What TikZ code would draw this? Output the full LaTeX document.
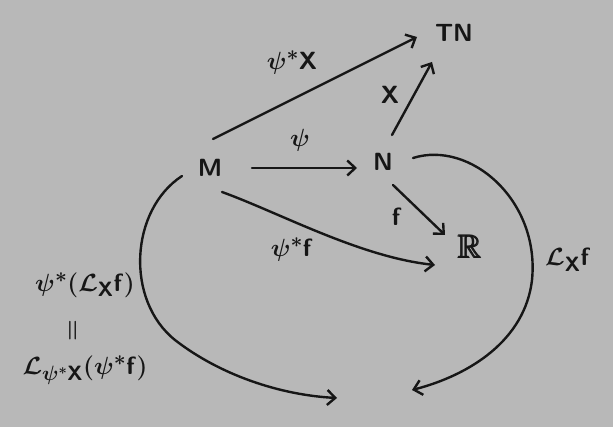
\documentclass[tikz,border=0pt]{standalone}
\usepackage{amsmath,amssymb}
\usetikzlibrary{arrows.meta,calc}
\definecolor{paper}{RGB}{184,184,184}
\definecolor{ink}{RGB}{22,22,22}
\tikzset{
  obj/.style={inner sep=3pt, text=ink, font=\fontsize{33}{36}\selectfont\boldmath},
  lbl/.style={inner sep=0pt, text=ink, font=\fontsize{32}{35}\selectfont\boldmath},
  sidelbl/.style={inner sep=0pt, text=ink, font=\fontsize{29}{32}\selectfont\boldmath},
  arr/.style={draw=ink, line width=2.4pt, line cap=round,
    -{Straight Barb[length=8pt,width=15pt,line width=2.4pt]}},
}
\begin{document}
\begin{tikzpicture}[x=1pt,y=-1pt]
\fill[paper] (0,0) rectangle (613,427);
\useasboundingbox (0,0) rectangle (613,427);
\node[obj] (M) at (210,168) {$\mathsf{M}$};
\node[obj] (N) at (383,162) {$\mathsf{N}$};
\node[obj] (TN) at (454,33) {$\mathsf{TN}$};
\node[obj] (R) at (470,247) {$\pmb{\mathbb{R}}$};
\coordinate (nend) at (412,390);
\coordinate (mend) at (337,398);
\draw[arr] ($(M)+(42,0)$) -- ($(N)+(-26,6)$);
\draw[arr] ($(M)+(3,-29)$) -- ($(TN)+(-37,4)$);
\draw[arr] ($(N)+(9,-27)$) -- ($(TN)+(-22,29)$);
\draw[arr] ($(N)+(10,23)$) -- ($(R)+(-25,-12)$);
\draw[arr] ($(M)+(12,24)$) .. controls ($(M)+(70,45)$) and ($(R)+(-110,10)$) .. ($(R)+(-35,18)$);
\draw[arr] ($(N)+(30,-4)$) .. controls (470,140) and (540,200) .. (532,280)
  .. controls (525,340) and (470,375) .. (nend);
\draw[arr] ($(M)+(-28,8)$) .. controls (130,210) and (125,300) .. (175,340)
  .. controls (220,375) and (280,395) .. (mend);
\node[lbl] (l1) at (292,63) {$\psi^*\mathsf{X}$};
\node[lbl] (l2) at (390,95) {$\mathsf{X}$};
\node[lbl] (l3) at (300,140) {$\psi$};
\node[lbl] (l4) at (397,217) {$\mathsf{f}$};
\node[lbl] (l5) at (292,250) {$\psi^*\mathsf{f}$};
\node[lbl] (l6) at (568,260) {$\mathcal{L}_{\mathsf{X}}\mathsf{f}$};
\node[sidelbl] (l7) at (85,285) {$\psi^*(\mathcal{L}_{\mathsf{X}}\mathsf{f})$};
\node[sidelbl, rotate=90] (l8) at (74,331) {$=$};
\node[sidelbl] (l9) at (85,370) {$\mathcal{L}_{\psi^*\mathsf{X}}(\psi^*\mathsf{f})$};
\end{tikzpicture}
\end{document}
